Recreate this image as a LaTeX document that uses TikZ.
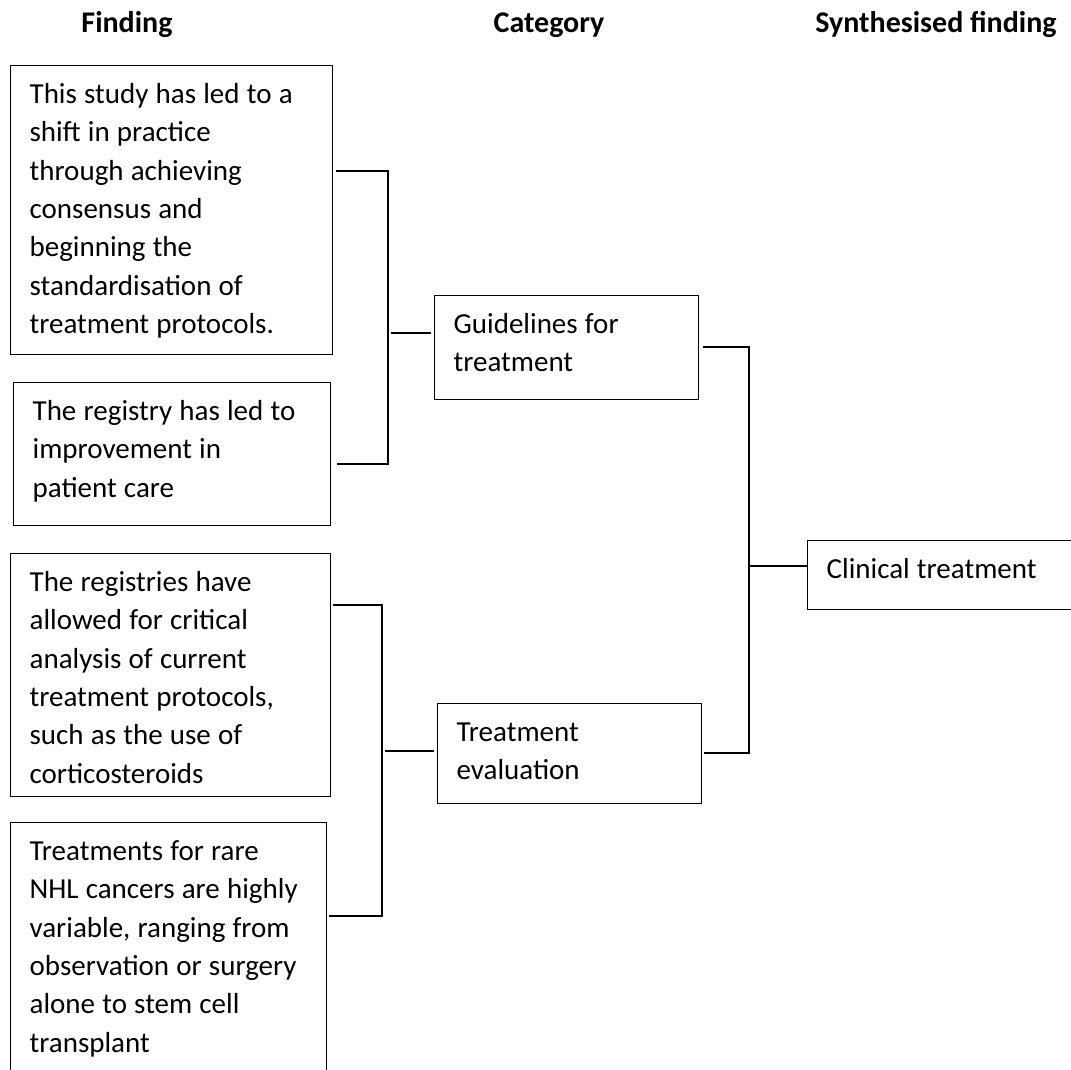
\documentclass[tikz,border=0pt]{standalone}
\usepackage{fontspec}
\setmainfont{Carlito}
\usepackage{tikz}
\usetikzlibrary{calc}

\begin{document}
\begin{tikzpicture}[x=1pt, y=-1pt, line width=1.3pt,
    head/.style={font=\fontsize{30}{36}\selectfont\bfseries, anchor=base, inner sep=0pt},
    finding/.style={draw, anchor=north west, inner xsep=19pt, inner ysep=0pt,
        text height=38pt, font=\fontsize{29}{38.3}\selectfont,
        execute at begin node={\spaceskip=7.2pt plus 1pt minus 1pt\relax}}]
    \useasboundingbox (0,0) rectangle (1071,1070);
    \clip (0,0) rectangle (1071,1070);

    \node[head] (hfind) at (127,33) {Finding};
    \node[head] (hcat) at (549,33) {Category};
    \node[head] (hsyn) at (936,33) {Synthesised finding};

    \node[finding, text width=284pt, text depth=251pt] (f1) at (10,65)
        {This study has led to a\\shift in practice\\through achieving\\consensus and\\beginning the\\standardisation of\\treatment protocols.};
    \node[finding, text width=279pt, text depth=105pt] (f2) at (13,382)
        {The registry has led to\\improvement in\\patient care};
    \node[finding, text width=282pt, text depth=205pt] (f3) at (10,553)
        {The registries have\\allowed for critical\\analysis of current\\treatment protocols,\\such as the use of\\corticosteroids};
    \node[finding, text width=278pt, text depth=222pt] (f4) at (10,822)
        {Treatments for rare\\NHL cancers are highly\\variable, ranging from\\observation or surgery\\alone to stem cell\\transplant};

    \node[finding, text width=226pt, text depth=66pt] (c1) at (434,295) {Guidelines for\\treatment};
    \node[finding, text width=226pt, text depth=62pt] (c2) at (437,703) {Treatment\\evaluation};
    \node[finding, text width=240pt, text depth=31pt] (syn) at (807,540) {Clinical treatment};

    \coordinate (k1) at (388,171);
    \coordinate (k2) at (388,464);
    \coordinate (k3) at (391,333);
    \draw ($(f1.east |- k1)+(3,0)$) -- (k1) -- (k2) -- ($(f2.east |- k2)+(6,0)$);
    \draw (k3) -- ($(c1.west |- k3)+(-3,0)$);

    \coordinate (k4) at (382,605);
    \coordinate (k5) at (382,916);
    \coordinate (k6) at (385,751);
    \draw ($(f3.east |- k4)+(2,0)$) -- (k4) -- (k5) -- ($(f4.east |- k5)+(2,0)$);
    \draw (k6) -- ($(c2.west |- k6)+(-3,0)$);

    \coordinate (k7) at (749,347);
    \coordinate (k8) at (749,753);
    \coordinate (k9) at (750,566);
    \draw ($(c1.east |- k7)+(4,0)$) -- (k7) -- (k8) -- ($(c2.east |- k8)+(2,0)$);
    \draw (k9) -- (syn.west |- k9);
\end{tikzpicture}
\end{document}
